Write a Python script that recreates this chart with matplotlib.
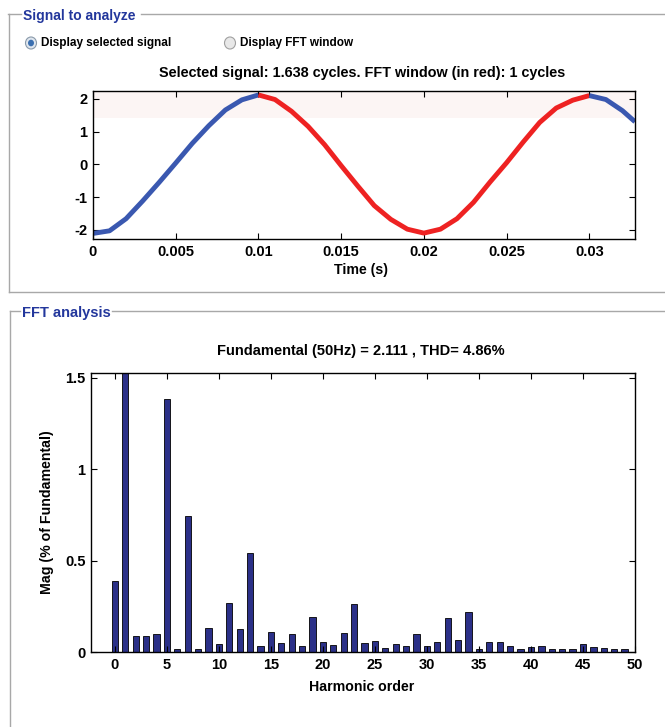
# FFT analysis panel (powergui style) - signal window + harmonic spectrum
import matplotlib
matplotlib.use('Agg')
import matplotlib.pyplot as plt
from matplotlib.lines import Line2D
from matplotlib.patches import Circle

plt.rcParams['font.family'] = ['Liberation Sans', 'DejaVu Sans']
plt.rcParams['font.weight'] = 'bold'
plt.rcParams['axes.unicode_minus'] = False

# signal, one point per ms
t_blue1 = [0.000, 0.001, 0.002, 0.003, 0.004, 0.005, 0.006, 0.007, 0.008, 0.009, 0.010]
v_blue1 = [-2.11, -2.03, -1.66, -1.12, -0.55, 0.04, 0.64, 1.18, 1.66, 1.97, 2.12]
t_red = [0.010, 0.011, 0.012, 0.013, 0.014, 0.015, 0.016, 0.017, 0.018, 0.019, 0.020,
         0.021, 0.022, 0.023, 0.024, 0.025, 0.026, 0.027, 0.028, 0.029, 0.030]
v_red = [2.12, 1.98, 1.62, 1.16, 0.60, -0.04, -0.66, -1.26, -1.68, -1.98, -2.10,
         -1.98, -1.66, -1.16, -0.54, 0.05, 0.68, 1.28, 1.72, 1.96, 2.10]
t_blue2 = [0.030, 0.031, 0.032, 0.03276]
v_blue2 = [2.10, 1.98, 1.64, 1.30]

# harmonic spectrum (% of fundamental), orders 0..49
orders = list(range(50))
mags = [0.39, 100.0, 0.087, 0.087, 0.098, 1.384, 0.018, 0.741, 0.018, 0.13,
        0.044, 0.27, 0.124, 0.539, 0.033, 0.111, 0.049, 0.098, 0.033, 0.19,
        0.055, 0.037, 0.104, 0.262, 0.048, 0.058, 0.024, 0.042, 0.034, 0.10,
        0.034, 0.053, 0.188, 0.066, 0.219, 0.016, 0.053, 0.053, 0.034, 0.016,
        0.029, 0.034, 0.016, 0.016, 0.016, 0.042, 0.029, 0.024, 0.016, 0.016]

W, H = 665, 727
fig = plt.figure(figsize=(W / 100, H / 100), dpi=100)
fig.patch.set_facecolor('white')

def fx(px):
    return px / W

def fy(py):
    return 1 - py / H

def hline(x0, x1, y, color='#a8a8a8'):
    fig.add_artist(Line2D([fx(x0), fx(x1)], [fy(y), fy(y)], color=color, lw=1.0,
                          transform=fig.transFigure))

def vline(x, y0, y1, color='#a8a8a8'):
    fig.add_artist(Line2D([fx(x), fx(x)], [fy(y0), fy(y1)], color=color, lw=1.0,
                          transform=fig.transFigure))

# group frames
hline(8, 21, 14)
hline(141, 665, 14)
vline(9, 14, 292)
hline(9, 665, 292)
hline(10, 20, 311)
hline(112, 665, 311)
vline(10, 311, 727)
fig.text(fx(23), fy(16), 'Signal to analyze', color='#23379c', fontsize=10,
         ha='left', va='center')
fig.text(fx(22), fy(313), 'FFT analysis', color='#23379c', fontsize=10.5,
         ha='left', va='center')

# radio buttons
fig.add_artist(Circle((fx(31), fy(43)), 5.5 / W, transform=fig.transFigure,
                      facecolor='#dfe6ee', edgecolor='#8a9aaa', lw=0.8))
fig.add_artist(Circle((fx(31), fy(43)), 3.0 / W, transform=fig.transFigure,
                      facecolor='#3b6fb0', edgecolor='none'))
fig.add_artist(Circle((fx(230), fy(43)), 5.5 / W, transform=fig.transFigure,
                      facecolor='#e8e8e8', edgecolor='#a0a0a0', lw=0.8))
fig.text(fx(41), fy(43), 'Display selected signal', fontsize=8.5, ha='left', va='center')
fig.text(fx(240), fy(43), 'Display FFT window', fontsize=8.5, ha='left', va='center')

def style_axes(ax):
    ax.tick_params(direction='in', top=True, right=True, length=4, width=0.8,
                   labelsize=10.5, pad=4)
    for s in ax.spines.values():
        s.set_linewidth(1.0)
    for lab in ax.get_xticklabels() + ax.get_yticklabels():
        lab.set_fontweight('bold')

# signal axes
ax1 = fig.add_axes([fx(93), fy(239), fx(635) - fx(93), fy(91) - fy(239)])
ax1.axhspan(1.42, 2.24, color='#fcf5f4', lw=0)
ax1.plot(t_blue1, v_blue1, color='#3a58b0', lw=3.5, solid_capstyle='butt')
ax1.plot(t_red, v_red, color='#ee2222', lw=3.5, solid_capstyle='butt')
ax1.plot(t_blue2, v_blue2, color='#3a58b0', lw=3.5, solid_capstyle='butt')
ax1.set_xlim(0, 0.03276)
ax1.set_ylim(-2.28, 2.24)
ax1.set_xticks([0, 0.005, 0.01, 0.015, 0.02, 0.025, 0.03])
ax1.set_xticklabels(['0', '0.005', '0.01', '0.015', '0.02', '0.025', '0.03'])
ax1.set_yticks([-2, -1, 0, 1, 2])
style_axes(ax1)
fig.text(fx(362), fy(73), 'Selected signal: 1.638 cycles. FFT window (in red): 1 cycles',
         fontsize=10.4, ha='center', va='center')
fig.text(fx(361), fy(270), 'Time (s)', fontsize=10.2, ha='center', va='center')

# spectrum axes
ax2 = fig.add_axes([fx(91), fy(652), fx(635) - fx(91), fy(373) - fy(652)])
ax2.bar(orders, mags, width=0.6, color='#2b3088', edgecolor='black', lw=0.6)
ax2.set_xlim(-2.3, 50)
ax2.set_ylim(0, 1.525)
ax2.set_xticks(range(0, 51, 5))
ax2.set_yticks([0, 0.5, 1, 1.5])
ax2.set_yticklabels(['0', '0.5', '1', '1.5'])
style_axes(ax2)
fig.text(fx(361), fy(351), 'Fundamental (50Hz) = 2.111 , THD= 4.86%',
         fontsize=10.5, ha='center', va='center')
fig.text(fx(362), fy(687), 'Harmonic order', fontsize=10.2, ha='center', va='center')
fig.text(fx(47), fy(512), 'Mag (% of Fundamental)', fontsize=10.2, ha='center',
         va='center', rotation=90)

fig.savefig('out.png', dpi=100)
